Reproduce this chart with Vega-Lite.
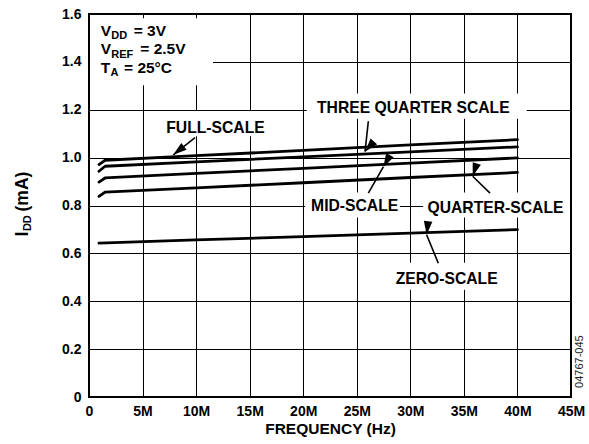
{
  "$schema": "https://vega.github.io/schema/vega-lite/v6.json",
  "width": 482,
  "height": 383,
  "autosize": {"type": "none"},
  "padding": {"left": 89, "top": 14, "right": 18, "bottom": 47},
  "background": "white",
  "config": {
    "view": {"stroke": null},
    "font": "Liberation Sans",
    "text": {"font": "Liberation Sans", "fontWeight": "bold", "color": "black"}
  },
  "encoding": {
    "x": {
      "field": "f", "type": "quantitative",
      "scale": {"domain": [0, 45], "nice": false, "zero": false},
      "axis": {
        "title": "FREQUENCY (Hz)",
        "values": [0, 5, 10, 15, 20, 25, 30, 35, 40, 45],
        "labelExpr": "datum.value == 0 ? '0' : datum.value + 'M'",
        "domain": false, "ticks": false,
        "grid": true, "gridColor": "black", "gridOpacity": 1, "gridWidth": 1,
        "labelFont": "Liberation Sans", "labelFontWeight": "bold", "labelFontSize": 14, "labelColor": "black",
        "labelPadding": 7, "labelFlush": false, "labelOverlap": false,
        "titleFont": "Liberation Sans", "titleFontWeight": "bold", "titleFontSize": 15.5, "titleColor": "black",
        "titlePadding": 3
      }
    },
    "y": {
      "field": "c", "type": "quantitative",
      "scale": {"domain": [0, 1.6], "nice": false, "zero": false},
      "axis": {
        "title": null,
        "values": [0, 0.2, 0.4, 0.6, 0.8, 1.0, 1.2, 1.4, 1.6],
        "labelExpr": "datum.value == 0 ? '0' : format(datum.value, '.1f')",
        "domain": false, "ticks": false,
        "grid": true, "gridColor": "black", "gridOpacity": 1, "gridWidth": 1,
        "labelFont": "Liberation Sans", "labelFontWeight": "bold", "labelFontSize": 14, "labelColor": "black",
        "labelPadding": 8, "labelFlush": false, "labelOverlap": false
      }
    }
  },
  "layer": [
    {
      "data": {"values": [
        {"box": "conditions", "f": 0, "f2": 11.58, "c": 1.302, "c2": 1.582},
        {"box": "full", "f": 7.0, "f2": 16.8, "c": 1.089, "c2": 1.195},
        {"box": "three quarter", "f": 20.33, "f2": 40.87, "c": 1.162, "c2": 1.268},
        {"box": "mid", "f": 20.17, "f2": 29.03, "c": 0.75, "c2": 0.854},
        {"box": "quarter", "f": 31.2, "f2": 44.9, "c": 0.75, "c2": 0.854},
        {"box": "zero", "f": 28.1, "f2": 38.6, "c": 0.448, "c2": 0.561}
      ]},
      "mark": {"type": "rect", "fill": "white", "stroke": null},
      "encoding": {"x2": {"field": "f2"}, "y2": {"field": "c2"}}
    },
    {
      "data": {"values": [
        {"series": "FULL-SCALE", "f": 0.93, "c": 0.971},
        {"series": "FULL-SCALE", "f": 1.5, "c": 0.989},
        {"series": "FULL-SCALE", "f": 10, "c": 1.008},
        {"series": "FULL-SCALE", "f": 20, "c": 1.03},
        {"series": "FULL-SCALE", "f": 30, "c": 1.053},
        {"series": "FULL-SCALE", "f": 40, "c": 1.075},
        {"series": "THREE QUARTER SCALE", "f": 0.93, "c": 0.943},
        {"series": "THREE QUARTER SCALE", "f": 1.5, "c": 0.964},
        {"series": "THREE QUARTER SCALE", "f": 10, "c": 0.982},
        {"series": "THREE QUARTER SCALE", "f": 20, "c": 1.003},
        {"series": "THREE QUARTER SCALE", "f": 30, "c": 1.024},
        {"series": "THREE QUARTER SCALE", "f": 40, "c": 1.045},
        {"series": "MID-SCALE", "f": 0.93, "c": 0.898},
        {"series": "MID-SCALE", "f": 1.5, "c": 0.915},
        {"series": "MID-SCALE", "f": 10, "c": 0.934},
        {"series": "MID-SCALE", "f": 20, "c": 0.955},
        {"series": "MID-SCALE", "f": 30, "c": 0.977},
        {"series": "MID-SCALE", "f": 40, "c": 0.999},
        {"series": "QUARTER-SCALE", "f": 0.93, "c": 0.838},
        {"series": "QUARTER-SCALE", "f": 1.5, "c": 0.856},
        {"series": "QUARTER-SCALE", "f": 10, "c": 0.874},
        {"series": "QUARTER-SCALE", "f": 20, "c": 0.895},
        {"series": "QUARTER-SCALE", "f": 30, "c": 0.917},
        {"series": "QUARTER-SCALE", "f": 40, "c": 0.938},
        {"series": "ZERO-SCALE", "f": 0.93, "c": 0.643},
        {"series": "ZERO-SCALE", "f": 10, "c": 0.656},
        {"series": "ZERO-SCALE", "f": 20, "c": 0.67},
        {"series": "ZERO-SCALE", "f": 30, "c": 0.685},
        {"series": "ZERO-SCALE", "f": 40, "c": 0.699}
      ]},
      "mark": {"type": "line", "color": "black", "strokeWidth": 2.8, "strokeCap": "round", "strokeJoin": "round"},
      "encoding": {"detail": {"field": "series"}}
    },
    {
      "data": {"name": "arrows", "values": [
        {"name": "FULL-SCALE", "f": 7.87, "c": 1.012, "f2": 9.9, "c2": 1.084},
        {"name": "THREE QUARTER SCALE", "f": 25.77, "c": 1.025, "f2": 26.08, "c2": 1.152},
        {"name": "MID-SCALE", "f": 27.48, "c": 0.961, "f2": 26.08, "c2": 0.852},
        {"name": "QUARTER-SCALE", "f": 35.82, "c": 0.922, "f2": 37.44, "c2": 0.852},
        {"name": "ZERO-SCALE", "f": 31.52, "c": 0.678, "f2": 32.61, "c2": 0.559}
      ]},
      "layer": [
        {
          "mark": {"type": "rule", "color": "black", "strokeWidth": 1.6},
          "encoding": {"x2": {"field": "f2"}, "y2": {"field": "c2"}}
        },
        {
          "mark": {"type": "point", "shape": "M0,0L-0.7,2.2L0.7,2.2Z", "filled": true, "color": "black", "opacity": 1, "size": 150, "strokeWidth": 0},
          "encoding": {
            "angle": {
              "field": "name", "type": "nominal", "legend": null,
              "scale": {"domain": ["FULL-SCALE", "THREE QUARTER SCALE", "MID-SCALE", "QUARTER-SCALE", "ZERO-SCALE"], "range": [232, 186.5, 30, 314, 336]}
            }
          }
        }
      ]
    },
    {
      "data": {"values": [
        {"t": "FULL-SCALE", "f": 11.81, "c": 1.103},
        {"t": "THREE QUARTER SCALE", "f": 30.28, "c": 1.187},
        {"t": "MID-SCALE", "f": 24.8, "c": 0.775},
        {"t": "QUARTER-SCALE", "f": 37.95, "c": 0.769},
        {"t": "ZERO-SCALE", "f": 33.39, "c": 0.472}
      ]},
      "mark": {"type": "text", "align": "center", "baseline": "alphabetic", "fontSize": 15.7, "fontWeight": "bold"},
      "encoding": {"text": {"field": "t"}}
    },
    {
      "data": {"values": [
        {"t": "V", "f": 1.09, "c": 1.508},
        {"t": "= 3V", "f": 4.17, "c": 1.508},
        {"t": "V", "f": 1.09, "c": 1.432},
        {"t": "= 2.5V", "f": 4.79, "c": 1.432},
        {"t": "T", "f": 1.09, "c": 1.354},
        {"t": "= 25°C", "f": 3.27, "c": 1.354}
      ]},
      "mark": {"type": "text", "align": "left", "baseline": "alphabetic", "fontSize": 15.5, "fontWeight": "bold"},
      "encoding": {"text": {"field": "t"}}
    },
    {
      "data": {"values": [
        {"t": "DD", "f": 2.08, "c": 1.494},
        {"t": "REF", "f": 2.08, "c": 1.418},
        {"t": "A", "f": 2.0, "c": 1.341}
      ]},
      "mark": {"type": "text", "align": "left", "baseline": "alphabetic", "fontSize": 11, "fontWeight": "bold"},
      "encoding": {"text": {"field": "t"}}
    },
    {
      "data": {"values": [
        {"t": "I", "f": -5.67, "c": 0.671},
        {"t": "(mA)", "f": -5.67, "c": 0.775}
      ]},
      "mark": {"type": "text", "align": "left", "baseline": "alphabetic", "angle": 270, "fontSize": 17.5, "fontWeight": "bold"},
      "encoding": {"text": {"field": "t"}}
    },
    {
      "data": {"values": [
        {"t": "DD", "f": -5.45, "c": 0.693}
      ]},
      "mark": {"type": "text", "align": "left", "baseline": "alphabetic", "angle": 270, "fontSize": 11, "fontWeight": "bold"},
      "encoding": {"text": {"field": "t"}}
    },
    {
      "data": {"values": [
        {"t": "04767-045", "f": 46.1, "c": 0.038}
      ]},
      "mark": {"type": "text", "align": "left", "baseline": "alphabetic", "angle": 270, "fontSize": 11, "fontWeight": "normal", "color": "#222"},
      "encoding": {"text": {"field": "t"}}
    },
    {
      "data": {"values": [{"f": 0, "f2": 45, "c": 0, "c2": 1.6}]},
      "mark": {"type": "rect", "fillOpacity": 0, "stroke": "black", "strokeWidth": 2},
      "encoding": {"x2": {"field": "f2"}, "y2": {"field": "c2"}}
    }
  ]
}
